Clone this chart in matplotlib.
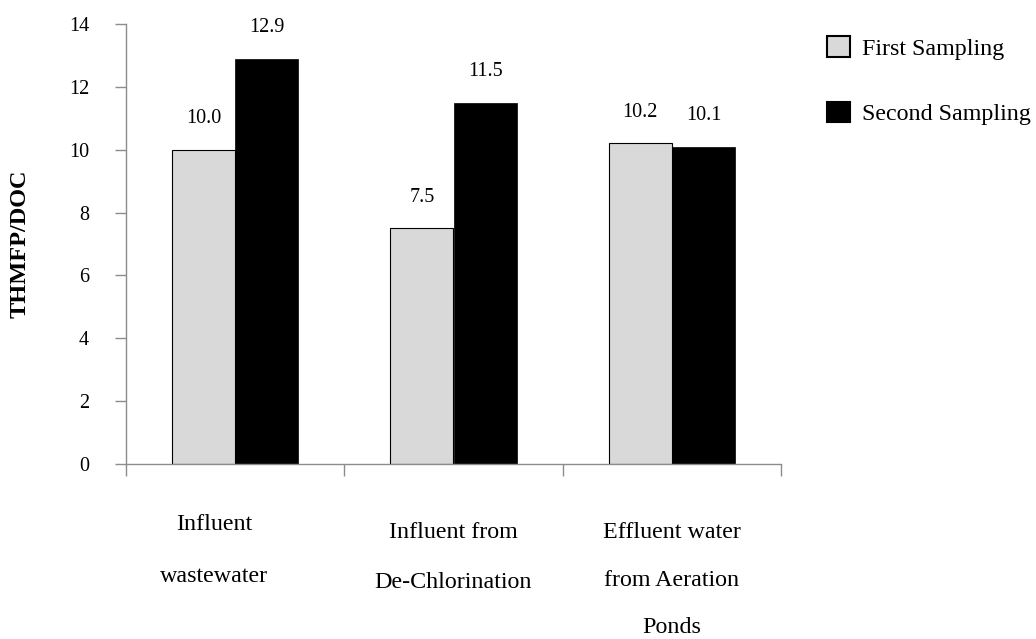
import matplotlib
matplotlib.use('Agg')
import matplotlib.pyplot as plt
import matplotlib.transforms as mtransforms
from matplotlib.patches import Patch
import numpy as np

plt.rcParams['font.family'] = ['Liberation Serif', 'DejaVu Serif']

# data
categories = [['Influent', 'wastewater'],
              ['Influent from', 'De-Chlorination'],
              ['Effluent water', 'from Aeration', 'Ponds']]
first_sampling = [10.0, 7.5, 10.2]
second_sampling = [12.9, 11.5, 10.1]
series_names = ['First Sampling', 'Second Sampling']
y_ticks = [0, 2, 4, 6, 8, 10, 12, 14]

# layout (pixel positions of the category label lines)
label_x = [-0.096, 1.0, 2.0]
label_first_baseline = [530, 538, 538]
label_line_step = [52, 49.5, 47.5]

W, H = 1036, 639
fig = plt.figure(figsize=(W / 100, H / 100), dpi=100)
ax = fig.add_axes([126 / W, 1 - 464 / H, 655 / W, 440 / H])

axis_grey = '#8c8c8c'
x = np.arange(len(categories))
bw = 0.29

ax.bar(x - bw, first_sampling, bw, align='edge', color='#d9d9d9',
       edgecolor='black', linewidth=0.8, zorder=2)
ax.bar(x, second_sampling, bw, align='edge', color='black',
       edgecolor='black', linewidth=0.5, zorder=2)

for xi, v in zip(x - bw / 2, first_sampling):
    ax.annotate('%.1f' % v, (xi, v), xytext=(0, 31), textcoords='offset pixels',
                ha='center', va='center', fontsize=14.5)
for xi, v in zip(x + bw / 2, second_sampling):
    ax.annotate('%.1f' % v, (xi, v), xytext=(0, 31), textcoords='offset pixels',
                ha='center', va='center', fontsize=14.5)

ax.set_xlim(-0.5, 2.5)
ax.set_ylim(0, 14)
ax.set_yticks(y_ticks)
ax.set_xticks([-0.5, 0.5, 1.5, 2.5])
ax.set_xticklabels([])
ax.tick_params(axis='y', direction='out', length=8, width=1.0, color=axis_grey,
               labelsize=14.5, pad=18.5)
ax.tick_params(axis='x', direction='out', length=8.6, width=1.0, color=axis_grey)

for s in ['top', 'right']:
    ax.spines[s].set_visible(False)
for s in ['left', 'bottom']:
    ax.spines[s].set_color(axis_grey)
    ax.spines[s].set_linewidth(1.0)
    ax.spines[s].set_zorder(3)

ax.set_ylabel('THMFP/DOC', fontsize=17.5, fontweight='bold')
ax.yaxis.set_label_coords(-0.146, 0.5)

# category labels, one text per line
trans = mtransforms.blended_transform_factory(ax.transData, fig.transFigure)
for lines, lx, y0, step in zip(categories, label_x, label_first_baseline, label_line_step):
    for i, line in enumerate(lines):
        ax.text(lx, 1 - (y0 + i * step) / H, line, transform=trans,
                ha='center', va='baseline', fontsize=17.3, clip_on=False)

handles = [Patch(facecolor='#d9d9d9', edgecolor='black', linewidth=1.5),
           Patch(facecolor='black', edgecolor='black', linewidth=1.5)]
fig.legend(handles, series_names, loc='upper left',
           bbox_to_anchor=(827 / W, 1 - 36 / H), bbox_transform=fig.transFigure,
           frameon=False, fontsize=17.3, handlelength=0.95, handleheight=0.95,
           handletextpad=0.5, labelspacing=1.75, borderpad=0, borderaxespad=0)

fig.savefig('out.png', dpi=100)
